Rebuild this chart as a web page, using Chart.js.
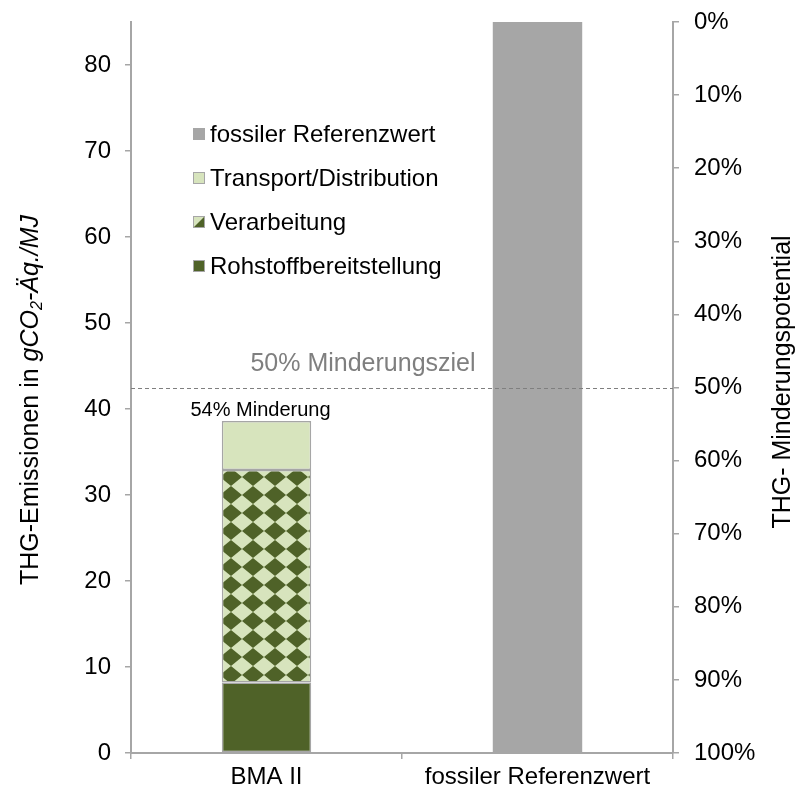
<!DOCTYPE html>
<html>
<head>
<meta charset="utf-8">
<script src="https://cdn.jsdelivr.net/npm/chart.js@4"></script>
<style>
  html, body { margin: 0; padding: 0; background: #fff; }
  #wrap { width: 795px; height: 794px; }
</style>
</head>
<body>
<div id="wrap"><canvas id="chart1" width="795" height="794"></canvas></div>
<script>
// data
const categories = ['BMA II', 'fossiler Referenzwert'];
const rohstoff = [8.2, null];
const verarbeitung = [24.7, null];
const transport = [5.7, null];
const fossil = [null, 85];
const reductionLabels = ['54% Minderung', ''];
const targetPct = 50;
const targetLabel = '50% Minderungsziel';
const yMax = 85;

const FONT = 'Arial, "Liberation Sans", sans-serif';

function diamondPattern() {
    const c = document.createElement('canvas');
    c.width = 22;
    c.height = 18;
    const g = c.getContext('2d');
    g.fillStyle = '#d7e4bd';
    g.fillRect(0, 0, 22, 18);
    g.fillStyle = '#4f6228';
    g.beginPath();
    g.moveTo(11, 0);
    g.lineTo(22, 9);
    g.lineTo(11, 18);
    g.lineTo(0, 9);
    g.closePath();
    g.fill();
    return g.createPattern(c, 'repeat');
}

// legend drawn inside plot, reversed order like the original
const innerLegend = {
    id: 'innerLegend',
    afterDraw(chart) {
        const ctx = chart.ctx;
        const items = chart.data.datasets.slice().reverse();
        ctx.save();
        ctx.font = '24px ' + FONT;
        ctx.textBaseline = 'middle';
        ctx.textAlign = 'left';
        items.forEach(function(ds, i) {
            const y = 134 + i * 44;
            const x = 193;
            if (ds.label === 'Verarbeitung') {
                ctx.fillStyle = '#d7e4bd';
                ctx.fillRect(x, y - 6, 12, 12);
                ctx.fillStyle = '#4f6228';
                ctx.beginPath();
                ctx.moveTo(x + 12, y - 6);
                ctx.lineTo(x + 12, y + 6);
                ctx.lineTo(x, y + 6);
                ctx.closePath();
                ctx.fill();
            } else {
                ctx.fillStyle = ds.backgroundColor;
                ctx.fillRect(x, y - 6, 12, 12);
            }
            ctx.strokeStyle = '#a6a6a6';
            ctx.lineWidth = 1;
            ctx.strokeRect(x + 0.5, y - 5.5, 11, 11);
            ctx.fillStyle = '#000';
            ctx.fillText(ds.label, x + 17, y + 1);
        });
        ctx.restore();
    }
};

// dashed 50% target line, bar annotation and axis titles
const extras = {
    id: 'extras',
    afterDatasetsDraw(chart) {
        const ctx = chart.ctx;
        const area = chart.chartArea;
        const yR = chart.scales.y1;
        const ty = Math.round(yR.getPixelForValue(targetPct)) + 0.5;
        ctx.save();
        ctx.strokeStyle = '#7f7f7f';
        ctx.lineWidth = 1;
        ctx.setLineDash([4, 3]);
        ctx.beginPath();
        ctx.moveTo(area.left, ty);
        ctx.lineTo(area.right, ty);
        ctx.stroke();
        ctx.setLineDash([]);
        ctx.fillStyle = '#7f7f7f';
        ctx.font = '25px ' + FONT;
        ctx.textAlign = 'center';
        ctx.textBaseline = 'alphabetic';
        ctx.fillText(targetLabel, 363, ty - 18);

        // label above the stacked bar
        const top = chart.getDatasetMeta(2);
        reductionLabels.forEach(function(txt, i) {
            if (!txt) return;
            const bar = top.data[i];
            ctx.fillStyle = '#000';
            ctx.font = '20px ' + FONT;
            ctx.fillText(txt, bar.x - 6, bar.y - 5);
        });

        // left title, mixed normal / italic with subscript
        ctx.translate(31, 400);
        ctx.rotate(-Math.PI / 2);
        ctx.textAlign = 'left';
        ctx.textBaseline = 'middle';
        ctx.fillStyle = '#000';
        const parts = [
            { t: 'THG-Emissionen in ', f: '25px ' + FONT, dy: 0 },
            { t: 'gCO', f: 'italic 25px ' + FONT, dy: 0 },
            { t: '2', f: 'italic 16px ' + FONT, dy: 7 },
            { t: '-Äq./MJ', f: 'italic 25px ' + FONT, dy: 0 }
        ];
        let total = 0;
        parts.forEach(function(p) { ctx.font = p.f; total += ctx.measureText(p.t).width; });
        let x = -total / 2;
        parts.forEach(function(p) {
            ctx.font = p.f;
            ctx.fillText(p.t, x, p.dy);
            x += ctx.measureText(p.t).width;
        });
        ctx.restore();

        // right title
        ctx.save();
        ctx.translate(783, 382);
        ctx.rotate(-Math.PI / 2);
        ctx.textAlign = 'center';
        ctx.textBaseline = 'middle';
        ctx.fillStyle = '#000';
        ctx.font = '25px ' + FONT;
        ctx.fillText('THG- Minderungspotential', 0, 0);
        ctx.restore();
    }
};

function noOverflow(s) {
    s.paddingTop = 0;
    s.paddingBottom = 0;
    s.paddingLeft = 0;
    s.paddingRight = 0;
}

document.addEventListener('DOMContentLoaded', function() {
    const ctx = document.getElementById('chart1').getContext('2d');
    const barBorder = '#a6a6a6';
    new Chart(ctx, {
        type: 'bar',
        data: {
            labels: categories,
            datasets: [
                { label: 'Rohstoffbereitstellung', data: rohstoff, backgroundColor: '#4f6228',
                  borderColor: barBorder, borderWidth: 1.5, borderSkipped: false },
                { label: 'Verarbeitung', data: verarbeitung, backgroundColor: diamondPattern(),
                  borderColor: barBorder, borderWidth: 1.5, borderSkipped: false },
                { label: 'Transport/Distribution', data: transport, backgroundColor: '#d7e4bd',
                  borderColor: barBorder, borderWidth: 1.5, borderSkipped: false },
                { label: 'fossiler Referenzwert', data: fossil, backgroundColor: '#a6a6a6',
                  borderWidth: 0 }
            ]
        },
        options: {
            responsive: false,
            animation: false,
            events: [],
            layout: { padding: { top: 22, left: 0, right: 0, bottom: 0 } },
            datasets: { bar: { categoryPercentage: 1, barPercentage: 0.33, grouped: false } },
            plugins: { legend: { display: false }, tooltip: { enabled: false } },
            scales: {
                x: {
                    stacked: true,
                    grid: { offset: true, drawOnChartArea: false, color: '#a6a6a6', tickLength: 6, lineWidth: 1.5 },
                    border: { color: '#a6a6a6', width: 2 },
                    ticks: { color: '#000', font: { family: FONT, size: 24 }, padding: 4 },
                    afterFit(s) { s.height = 41; noOverflow(s); }
                },
                y: {
                    stacked: true,
                    min: 0,
                    max: yMax,
                    grid: { drawOnChartArea: false, color: '#a6a6a6', tickLength: 6, lineWidth: 1.5 },
                    border: { color: '#a6a6a6', width: 2 },
                    ticks: { stepSize: 10, color: '#000', font: { family: FONT, size: 24 }, padding: 14 },
                    afterBuildTicks(s) { s.ticks = s.ticks.filter(function(t) { return t.value % 10 === 0; }); },
                    afterFit(s) { s.width = 131; noOverflow(s); }
                },
                y1: {
                    position: 'right',
                    reverse: true,
                    min: 0,
                    max: 100,
                    grid: { drawOnChartArea: false, color: '#a6a6a6', tickLength: 6, lineWidth: 1.5 },
                    border: { color: '#a6a6a6', width: 2 },
                    ticks: { stepSize: 10, color: '#000', font: { family: FONT, size: 24 }, padding: 15,
                             callback: function(v) { return v + '%'; } },
                    afterFit(s) { s.width = 122; noOverflow(s); }
                }
            }
        },
        plugins: [extras, innerLegend]
    });
});
</script>
</body>
</html>
